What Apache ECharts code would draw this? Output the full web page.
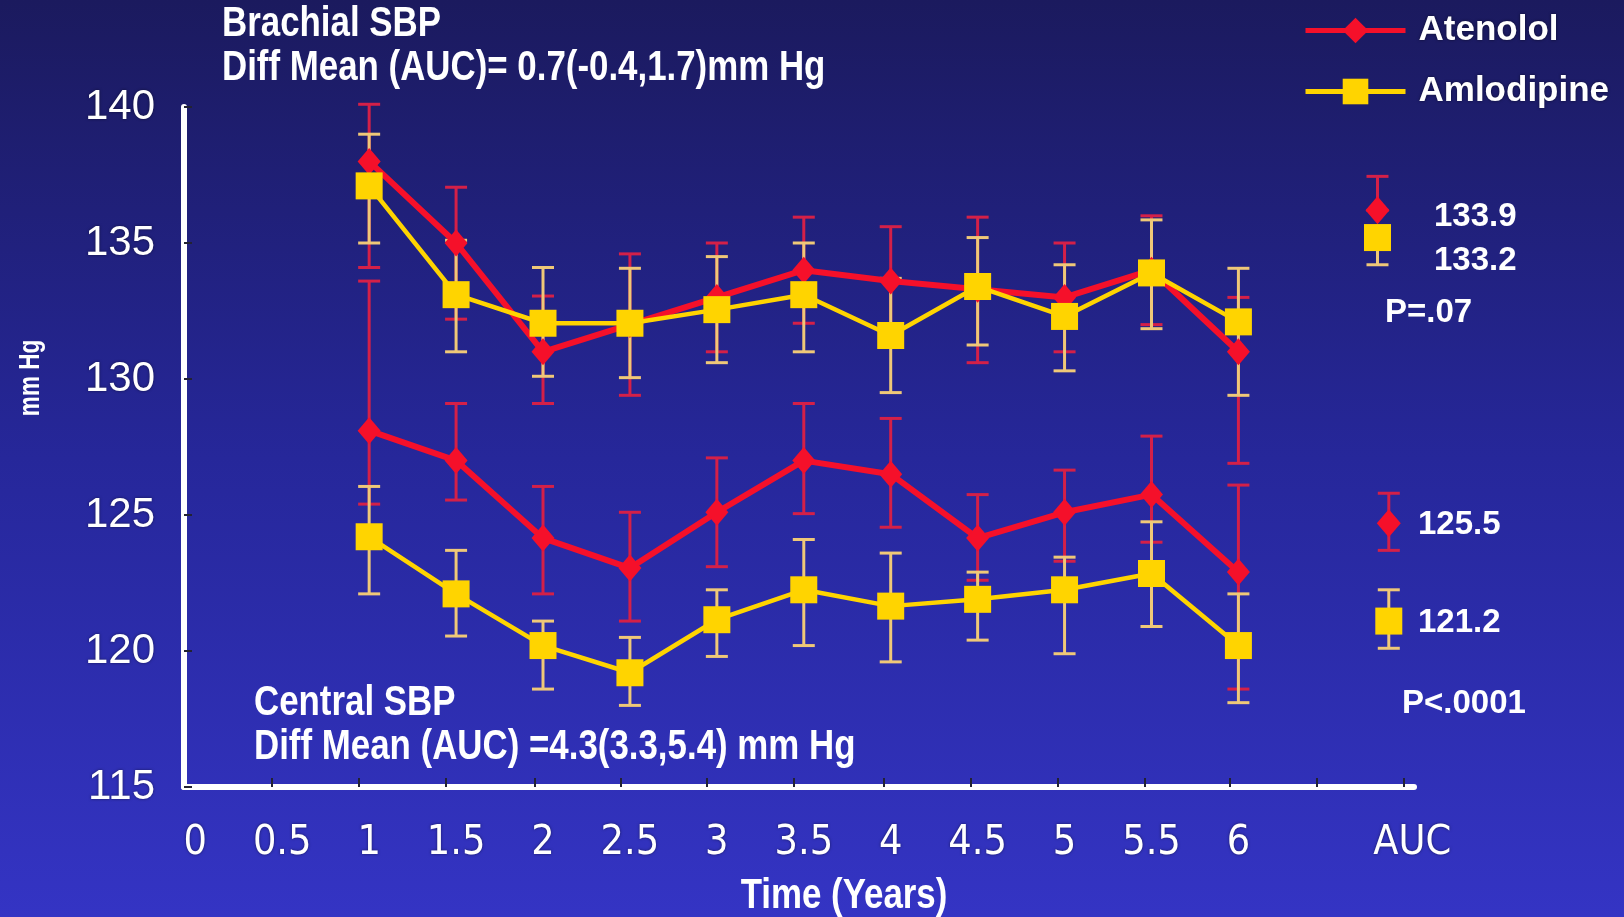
<!DOCTYPE html>
<html>
<head>
<meta charset="utf-8">
<title>Brachial and Central SBP</title>
<script src="https://cdn.jsdelivr.net/npm/echarts@6/dist/echarts.min.js"></script>
<style>
  html, body { margin: 0; padding: 0; }
  #main { width: 1624px; height: 917px; }
</style>
</head>
<body>
<div id="main"></div>
<script>
// 时间点 (年)
var years = [1, 1.5, 2, 2.5, 3, 3.5, 4, 4.5, 5, 5.5, 6];
// 横轴刻度 (标签与刻度线, 原图刻度线略偏左)
var xTickValues = [0, 0.5, 1, 1.5, 2, 2.5, 3, 3.5, 4, 4.5, 5, 5.5, 6, 7];
var xTickLabels = ['0', '0.5', '1', '1.5', '2', '2.5', '3', '3.5', '4', '4.5', '5', '5.5', '6', 'AUC'];
var xTickMarks = [0.44, 0.94, 1.44, 1.95, 2.45, 2.94, 3.44, 3.96, 4.46, 4.96, 5.46, 5.95, 6.45, 6.95];

// Brachial SBP
var brachialAten = [138.0, 135.0, 131.0, 132.0, 133.0, 134.0, 133.6, 133.3, 133.0, 134.0, 131.0];
var brachialAtenLow = [134.1, 132.2, 129.1, 129.4, 131.0, 132.05, 131.6, 130.6, 131.0, 132.0, 126.9];
var brachialAtenHigh = [140.1, 137.05, 133.05, 134.6, 135.0, 135.95, 135.6, 135.95, 135.0, 136.0, 133.0];
var brachialAmlo = [137.1, 133.1, 132.05, 132.05, 132.55, 133.1, 131.6, 133.4, 132.3, 133.9, 132.1];
var brachialAmloLow = [135.0, 131.0, 130.1, 130.05, 130.6, 131.0, 129.5, 131.25, 130.3, 131.85, 129.4];
var brachialAmloHigh = [139.0, 135.1, 134.1, 134.07, 134.5, 135.0, 133.7, 135.2, 134.2, 135.85, 134.07];

// Central SBP
var centralAten = [128.1, 127.0, 124.15, 123.05, 125.1, 127.0, 126.5, 124.15, 125.1, 125.75, 122.9];
var centralAtenLow = [125.4, 125.55, 122.1, 121.1, 123.1, 125.05, 124.55, 122.6, 123.3, 124.0, 118.6];
var centralAtenHigh = [133.6, 129.1, 126.05, 125.1, 127.1, 129.1, 128.55, 125.75, 126.65, 127.9, 126.1];
var centralAmlo = [124.2, 122.1, 120.2, 119.2, 121.15, 122.25, 121.65, 121.9, 122.25, 122.85, 120.2];
var centralAmloLow = [122.1, 120.55, 118.6, 118.0, 119.8, 120.2, 119.6, 120.4, 119.9, 120.9, 118.1];
var centralAmloHigh = [126.05, 123.7, 121.1, 120.5, 122.25, 124.1, 123.6, 122.9, 123.45, 124.75, 122.1];

// AUC 区域的标记 (位置按图读取)
var aucX = [6.8, 6.865];
var aucAten = [136.2, 124.7];
var aucAtenLow = [136.2, 123.7];
var aucAtenHigh = [137.45, 125.8];
var aucAmlo = [135.2, 121.1];
var aucAmloLow = [134.2, 120.1];
var aucAmloHigh = [135.2, 122.25];

var RED = '#f5102a';
var RED_BAR = '#d42048';
var YELLOW = '#ffd400';
var YELLOW_BAR = '#efc878';
var SANS = "'Liberation Sans', Arial, sans-serif";
var COND = "'DejaVu Sans Condensed', 'Liberation Sans Narrow', sans-serif";

function pairs(xs, ys) {
  return xs.map(function (x, i) { return [x, ys[i]]; });
}
function bars(xs, lo, hi) {
  return xs.map(function (x, i) { return [x, lo[i], hi[i]]; });
}

// 误差棒
function errorSeries(name, data, color) {
  return {
    name: name,
    type: 'custom',
    z: 1,
    silent: true,
    encode: { x: 0, y: [1, 2] },
    data: data,
    renderItem: function (params, api) {
      var x = api.value(0);
      var lo = api.coord([x, api.value(1)]);
      var hi = api.coord([x, api.value(2)]);
      var w = 11;
      var style = { stroke: color, lineWidth: 3 };
      return {
        type: 'group',
        children: [
          { type: 'line', shape: { x1: lo[0], y1: lo[1], x2: hi[0], y2: hi[1] }, style: style },
          { type: 'line', shape: { x1: hi[0] - w, y1: hi[1], x2: hi[0] + w, y2: hi[1] }, style: style },
          { type: 'line', shape: { x1: lo[0] - w, y1: lo[1], x2: lo[0] + w, y2: lo[1] }, style: style }
        ]
      };
    }
  };
}

function lineSeries(name, data, color, symbol, size, width, z) {
  return {
    name: name,
    type: 'line',
    z: z,
    data: data,
    symbol: symbol,
    symbolSize: size,
    lineStyle: { color: color, width: width },
    itemStyle: { color: color }
  };
}

function scatterSeries(name, data, color, symbol, size, z) {
  return {
    name: name,
    type: 'scatter',
    z: z,
    data: data,
    symbol: symbol,
    symbolSize: size,
    itemStyle: { color: color, opacity: 1 }
  };
}

// 文字, 用 scaleX 模拟窄体
function text(str, x, y, opt) {
  opt = opt || {};
  return {
    type: 'text',
    x: x,
    y: y,
    rotation: opt.rotation || 0,
    scaleX: opt.scaleX || 0.83,
    style: {
      text: str,
      fill: '#ffffff',
      font: 'bold ' + (opt.size || 42) + 'px ' + SANS,
      align: opt.align || 'left',
      verticalAlign: 'middle',
      shadowColor: 'rgba(0,0,0,0.55)',
      shadowBlur: 3,
      shadowOffsetX: 1,
      shadowOffsetY: 1
    }
  };
}

var chart = echarts.init(document.getElementById('main'));

var option = {
  animation: false,
  backgroundColor: {
    type: 'linear', x: 0, y: 0, x2: 0, y2: 1,
    colorStops: [
      { offset: 0, color: '#1b1a5e' },
      { offset: 0.5, color: '#26279a' },
      { offset: 1, color: '#3434c4' }
    ]
  },
  grid: { left: 184, right: 210, top: 107, bottom: 130 },
  legend: {
    data: [{ name: 'Atenolol' }, { name: 'Amlodipine' }],
    orient: 'vertical',
    left: 1298,
    top: 8,
    itemWidth: 100,
    itemHeight: 32,
    itemGap: 26,
    lineStyle: { width: 5 },
    textStyle: {
      color: '#ffffff',
      fontSize: 35,
      fontWeight: 'bold',
      fontFamily: SANS,
      lineHeight: 32,
      padding: [0, 0, 0, 8],
      textShadowColor: 'rgba(0,0,0,0.55)',
      textShadowBlur: 3
    }
  },
  xAxis: {
    type: 'value',
    min: -0.065,
    max: 7.01,
    splitLine: { show: false },
    axisLine: { onZero: false, lineStyle: { color: '#ffffff', width: 6 } },
    axisTick: {
      inside: true,
      length: 9,
      customValues: xTickMarks,
      lineStyle: { color: '#222233', width: 2 }
    },
    axisLabel: {
      customValues: xTickValues,
      formatter: function (v) {
        var i = xTickValues.indexOf(v);
        return i >= 0 ? xTickLabels[i] : '';
      },
      color: '#ffffff',
      fontSize: 41,
      fontFamily: COND,
      margin: 36,
      textShadowColor: 'rgba(0,0,0,0.5)',
      textShadowBlur: 3
    }
  },
  yAxis: {
    type: 'value',
    min: 115,
    max: 140,
    interval: 5,
    splitLine: { show: false },
    axisLine: { show: true, onZero: false, lineStyle: { color: '#ffffff', width: 6 } },
    axisTick: { show: true, inside: true, length: 8, lineStyle: { color: '#222233', width: 2 } },
    axisLabel: {
      color: '#ffffff',
      fontSize: 42,
      fontFamily: SANS,
      margin: 29,
      textShadowColor: 'rgba(0,0,0,0.5)',
      textShadowBlur: 3
    }
  },
  series: [
    errorSeries('Atenolol SE', bars(years, brachialAtenLow, brachialAtenHigh), RED_BAR),
    errorSeries('Atenolol SE', bars(years, centralAtenLow, centralAtenHigh), RED_BAR),
    errorSeries('Atenolol SE', bars(aucX, aucAtenLow, aucAtenHigh), RED_BAR),
    errorSeries('Amlodipine SE', bars(years, brachialAmloLow, brachialAmloHigh), YELLOW_BAR),
    errorSeries('Amlodipine SE', bars(years, centralAmloLow, centralAmloHigh), YELLOW_BAR),
    errorSeries('Amlodipine SE', bars(aucX, aucAmloLow, aucAmloHigh), YELLOW_BAR),
    lineSeries('Atenolol', pairs(years, brachialAten), RED, 'diamond', [23, 27], 6, 2),
    lineSeries('Atenolol', pairs(years, centralAten), RED, 'diamond', [23, 27], 6, 2),
    lineSeries('Amlodipine', pairs(years, brachialAmlo), YELLOW, 'rect', 27, 4.5, 3),
    lineSeries('Amlodipine', pairs(years, centralAmlo), YELLOW, 'rect', 27, 4.5, 3),
    scatterSeries('Atenolol AUC', pairs(aucX, aucAten), RED, 'diamond', [24, 28], 4),
    scatterSeries('Amlodipine AUC', pairs(aucX, aucAmlo), YELLOW, 'rect', 27, 4)
  ],
  graphic: [
    text('Brachial SBP', 222, 24),
    text('Diff Mean (AUC)= 0.7(-0.4,1.7)mm Hg', 222, 68),
    text('Central SBP', 254, 703),
    text('Diff Mean (AUC) =4.3(3.3,5.4) mm Hg', 254, 747),
    text('133.9', 1434, 217, { size: 33, scaleX: 1 }),
    text('133.2', 1434, 261, { size: 33, scaleX: 1 }),
    text('P=.07', 1385, 313, { size: 33, scaleX: 1 }),
    text('125.5', 1418, 525, { size: 33, scaleX: 1 }),
    text('121.2', 1418, 623, { size: 33, scaleX: 1 }),
    text('P<.0001', 1402, 704, { size: 33, scaleX: 1 }),
    text('Time (Years)', 844, 896, { align: 'center' }),
    text('mm Hg', 31, 378, { align: 'center', size: 30, scaleX: 0.75, rotation: Math.PI / 2 })
  ]
};

chart.setOption(option);
</script>
</body>
</html>
